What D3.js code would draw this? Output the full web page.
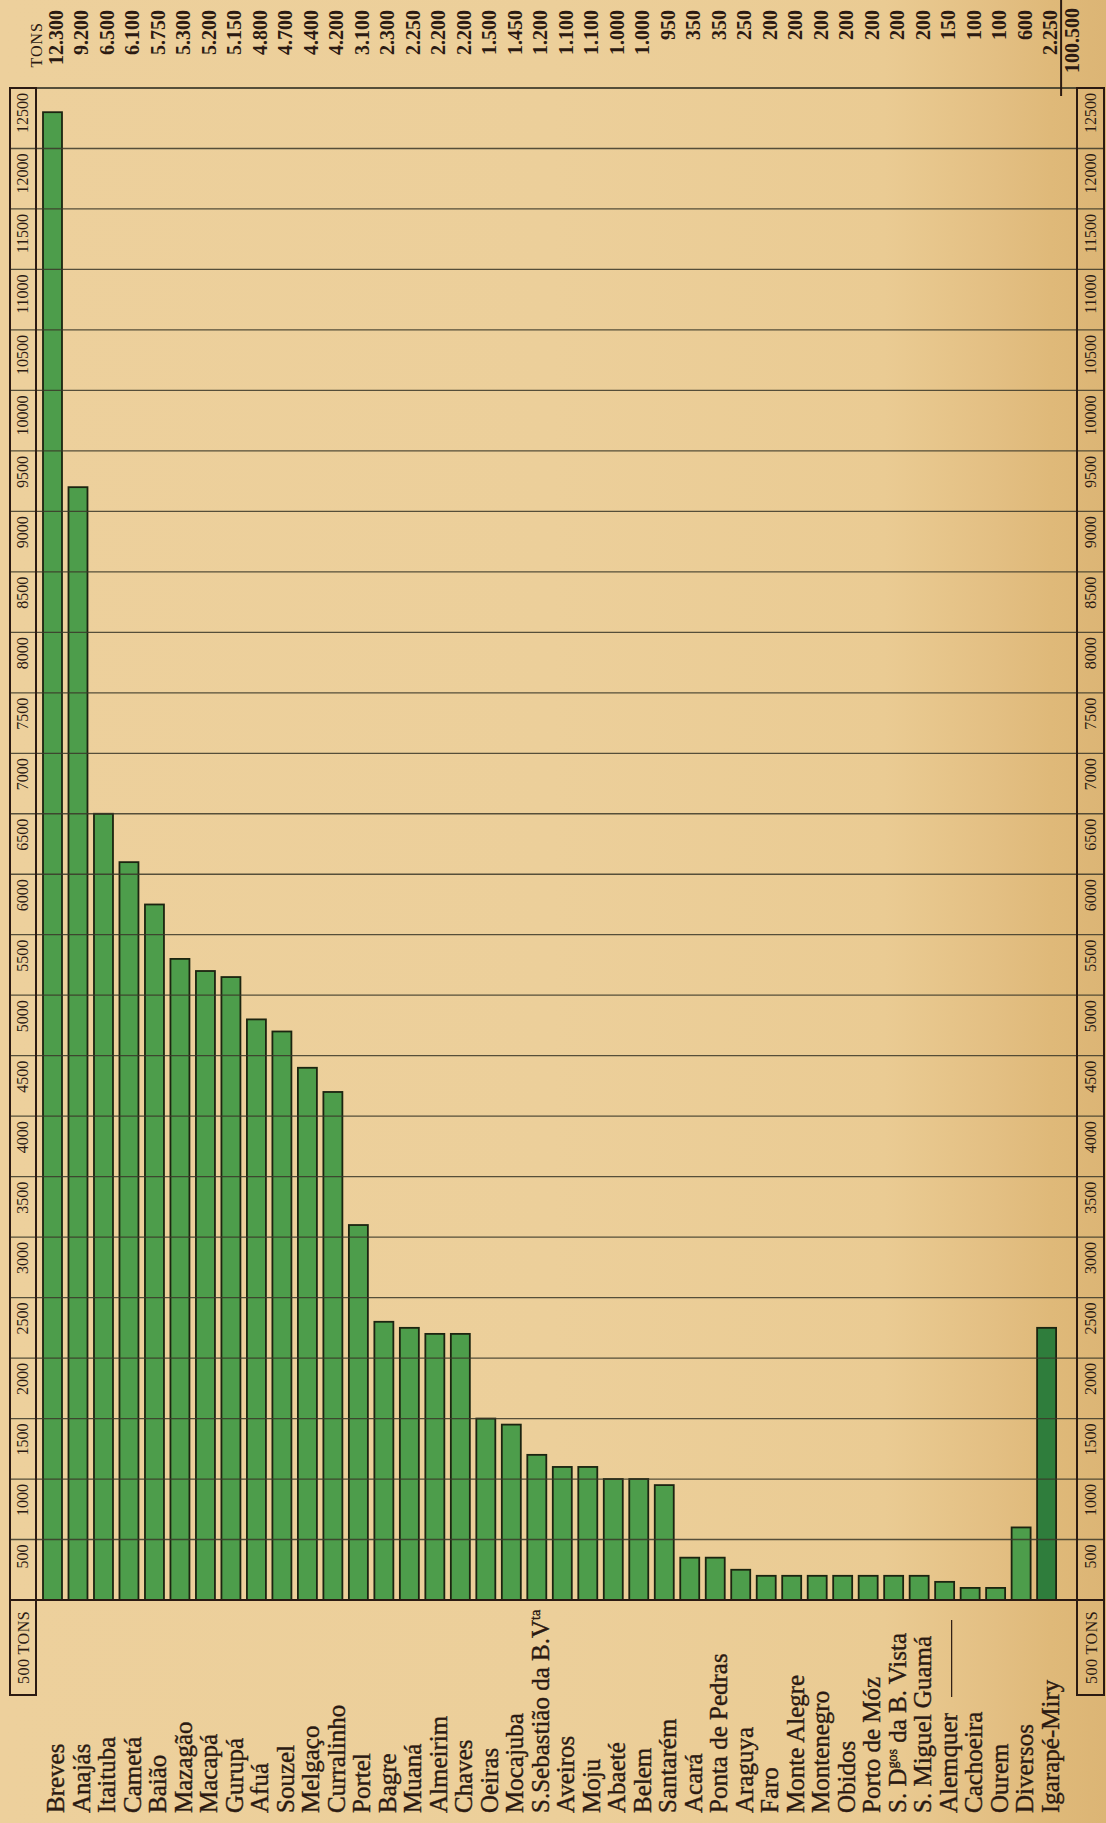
<!DOCTYPE html>
<html>
<head>
<meta charset="utf-8">
<script src="https://cdn.jsdelivr.net/npm/d3@7"></script>
<style>
  body { margin: 0; background: #ebcd98; }
  svg { display: block; }
</style>
</head>
<body>
<svg id="chart" width="1106" height="1823"></svg>
<script>
// Municipalities (a "^...^" pair marks superscript text in a label)
const categories = [
  "Breves", "Anajás", "Itaituba", "Cametá", "Baião", "Mazagão", "Macapá", "Gurupá",
  "Afuá", "Souzel", "Melgaço", "Curralinho", "Portel", "Bagre", "Muaná", "Almeirim",
  "Chaves", "Oeiras", "Mocajuba", "S.Sebastião da B.V^ta", "Aveiros", "Moju", "Abaeté",
  "Belem", "Santarém", "Acará", "Ponta de Pedras", "Araguya", "Faro", "Monte Alegre",
  "Montenegro", "Obidos", "Porto de Móz", "S. D^gos^ da B. Vista", "S. Miguel Guamá",
  "Alemquer", "Cachoeira", "Ourem", "Diversos", "Igarapé-Miry"
];

// Production in tons
const tons = [
  12300, 9200, 6500, 6100, 5750, 5300, 5200, 5150,
  4800, 4700, 4400, 4200, 3100, 2300, 2250, 2200,
  2200, 1500, 1450, 1200, 1100, 1100, 1000,
  1000, 950, 350, 350, 250, 200, 200,
  200, 200, 200, 200, 200,
  150, 100, 100, 600, 2250
];

const totalLabel = "100.500";
const unitLabel = "TONS";
const cellLabel = "500 TONS";
const yTicks = [500, 1000, 1500, 2000, 2500, 3000, 3500, 4000, 4500, 5000, 5500, 6000,
                6500, 7000, 7500, 8000, 8500, 9000, 9500, 10000, 10500, 11000, 11500, 12000, 12500];
const darkBar = "Igarapé-Miry";
const leaderLabel = "Alemquer";

// ---- layout ----
const W = 1106, H = 1823;
const baseY = 1600, topY = 88, boxBottom = 1695;
const leftBox = [10, 36], rightBox = [1077, 1104];
const ink = "#2b1a12", gridInk = "#3b3829";
const serif = "'Liberation Serif', 'Times New Roman', serif";

const svg = d3.select("#chart");

// paper
const defs = svg.append("defs");
const grad = defs.append("linearGradient").attr("id", "paper").attr("x1", 0).attr("x2", 1).attr("y1", 0).attr("y2", 0);
[[0, "#edd09c"], [0.5, "#eccf9a"], [0.8, "#eacb93"], [0.86, "#e6c489"], [0.9, "#e3bf83"],
 [0.95, "#dfb979"], [1, "#dcb575"]].forEach(([o, c]) =>
  grad.append("stop").attr("offset", o).attr("stop-color", c));
svg.append("rect").attr("width", W).attr("height", H).attr("fill", "url(#paper)");

const x = d3.scaleBand()
  .domain(categories)
  .range([39.75, 1059.35])
  .paddingInner(0.255)
  .paddingOuter(0.1275);

const y = d3.scaleLinear().domain([0, 12500]).range([baseY, topY]);

const data = categories.map((c, i) => ({ name: c, value: tons[i] }));

// bars
svg.append("g").selectAll("rect").data(data).join("rect")
  .attr("x", d => x(d.name))
  .attr("y", d => y(d.value))
  .attr("width", x.bandwidth())
  .attr("height", d => y(0) - y(d.value))
  .attr("fill", d => d.name === darkBar ? "#2f7d3c" : "#4d9d4b")
  .attr("stroke", "#1c2410")
  .attr("stroke-width", 1.8);

// grid lines (printed over the bars)
svg.append("g").selectAll("line").data(yTicks).join("line")
  .attr("x1", leftBox[0])
  .attr("x2", rightBox[1])
  .attr("y1", d => y(d)).attr("y2", d => y(d))
  .attr("stroke", gridInk)
  .attr("stroke-width", d => d === 12500 ? 2 : 1.3)
  .attr("opacity", 0.85);

// baseline
svg.append("line")
  .attr("x1", leftBox[0]).attr("x2", rightBox[1])
  .attr("y1", y(0)).attr("y2", y(0))
  .attr("stroke", ink).attr("stroke-width", 2);

// scale columns on both sides
[leftBox, rightBox].forEach(([a, b]) => {
  const g = svg.append("g");
  g.append("rect")
    .attr("x", a).attr("y", y(12500))
    .attr("width", b - a).attr("height", boxBottom - y(12500))
    .attr("fill", "none").attr("stroke", ink).attr("stroke-width", 2);
  g.selectAll("text.tick").data(yTicks).join("text")
    .attr("class", "tick")
    .attr("transform", d => `translate(${b - 8},${y(d) + 5}) rotate(-90)`)
    .attr("text-anchor", "end")
    .attr("font-family", serif)
    .attr("font-size", 16)
    .attr("fill", ink)
    .text(d => d);
  g.append("text")
    .attr("transform", `translate(${b - 7},${(y(0) + boxBottom) / 2}) rotate(-90)`)
    .attr("text-anchor", "middle")
    .attr("font-family", serif)
    .attr("font-size", 16)
    .attr("letter-spacing", 0.5)
    .attr("fill", ink)
    .text(cellLabel);
});

// value column along the top
const fmt = v => d3.format(",")(v).replace(/,/g, ".");
svg.append("g").selectAll("text").data(data).join("text")
  .attr("transform", d => `translate(${x(d.name) + x.bandwidth() / 2 + 10.5},10) rotate(-90)`)
  .attr("text-anchor", "end")
  .attr("font-family", serif)
  .attr("font-weight", "bold")
  .attr("font-size", 20)
  .attr("fill", ink)
  .text(d => fmt(d.value));

// unit header
svg.append("text")
  .attr("transform", `translate(${x(categories[0]) - 1},22) rotate(-90)`)
  .attr("text-anchor", "end")
  .attr("font-family", serif)
  .attr("font-size", 16)
  .attr("letter-spacing", 1)
  .attr("fill", ink)
  .text(unitLabel);

// total with its rule
const lastX = x(categories[categories.length - 1]) + x.bandwidth();
svg.append("line")
  .attr("x1", lastX + 5).attr("x2", lastX + 5)
  .attr("y1", 0).attr("y2", y(12500) + 8)
  .attr("stroke", ink).attr("stroke-width", 2);
svg.append("text")
  .attr("transform", `translate(${lastX + 23},8) rotate(-90)`)
  .attr("text-anchor", "end")
  .attr("font-family", serif)
  .attr("font-weight", "bold")
  .attr("font-size", 20)
  .attr("fill", ink)
  .text(totalLabel);

// category labels
const labels = svg.append("g").selectAll("text").data(data).join("text")
  .attr("transform", d => `translate(${x(d.name) + x.bandwidth() / 2 + 12},1813) rotate(-90)`)
  .attr("text-anchor", "start")
  .attr("font-family", serif)
  .attr("font-size", 25)
  .attr("fill", ink)
  .attr("stroke", ink)
  .attr("stroke-width", 0.4);

labels.each(function (d) {
  const parts = d.name.split("^");
  const t = d3.select(this);
  parts.forEach((p, i) => {
    if (!p) return;
    const sup = i % 2 === 1;
    const prevSup = i > 0 && (i - 1) % 2 === 1;
    t.append("tspan")
      .attr("font-size", sup ? 14 : 25)
      .attr("dy", sup ? -9 : (prevSup ? 9 : 0))
      .text(p);
  });
});

// leader line after Alemquer
const lx = x(leaderLabel) + x.bandwidth() / 2 + 7;
svg.append("line")
  .attr("x1", lx).attr("x2", lx)
  .attr("y1", 1620).attr("y2", 1697)
  .attr("stroke", ink).attr("stroke-width", 1.2);
</script>
</body>
</html>
